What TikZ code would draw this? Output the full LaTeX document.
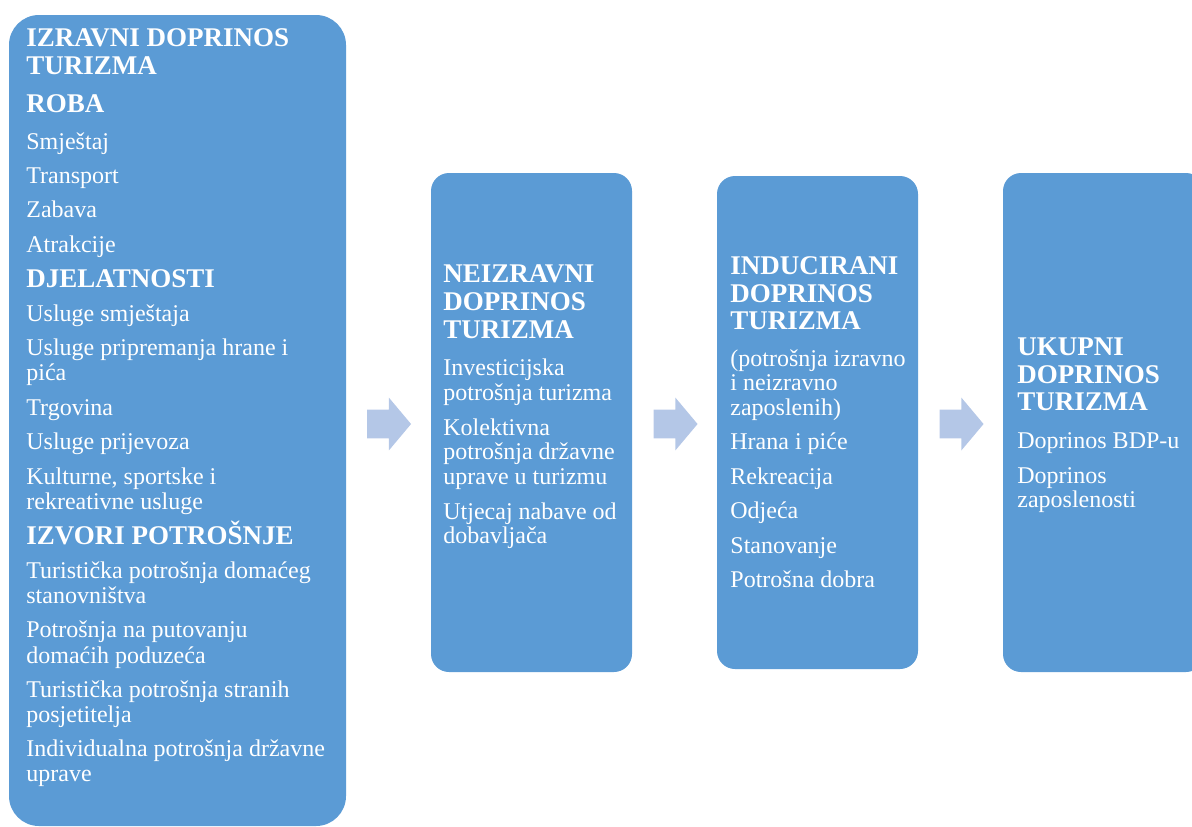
\documentclass[tikz,border=0pt]{standalone}
\usepackage{fontspec}
\setmainfont{Liberation Serif}
\usetikzlibrary{shapes.arrows}

\definecolor{boxblue}{HTML}{5B9BD5}
\definecolor{arrblue}{HTML}{B4C7E7}

\tikzset{
  box/.style={fill=boxblue, inner sep=0},
  arr/.style={single arrow, fill=arrblue, inner xsep=0, inner ysep=7pt,
    single arrow head extend=6pt, single arrow tip angle=100, minimum height=22pt},
  tx/.style={anchor=base west, inner sep=0, text=white, font=\fontsize{12}{12.5}\selectfont},
  hd/.style={tx, font=\fontsize{13.5}{14}\selectfont\bfseries}
}

\begin{document}
\begin{tikzpicture}[x=0.5pt,y=-0.5pt]
                \path[clip] (0,0) rectangle (1192,826);

                % okviri
                \node[box, rounded corners=15pt, minimum width=168.5pt, minimum height=405.5pt] (izr) at (177.5,420.5) {};
                \node[box, rounded corners=9pt, minimum width=100.5pt, minimum height=249.5pt] (neizr) at (531.5,422.5) {};
                \node[box, rounded corners=9pt, minimum width=100.5pt, minimum height=246.5pt] (ind) at (817.5,422.5) {};
                \node[box, rounded corners=9pt, minimum width=100.5pt, minimum height=249.5pt] (uk) at (1103.5,422.5) {};

                % strelice
                \node[arr] (s1) at (383,424) {};
                \node[arr] (s2) at (669.5,424) {};
                \node[arr] (s3) at (955.5,424) {};

                % izravni doprinos
                \foreach \y/\t [count=\i] in {46/IZRAVNI DOPRINOS, 74/TURIZMA, 112/ROBA, 287/DJELATNOSTI, 544/IZVORI POTROŠNJE}
                    \node[hd] (izr-h\i) at (26,\y) {\t};
                \foreach \y/\t [count=\i] in {149/Smještaj, 183/Transport, 217/Zabava, 252/Atrakcije,
                    321/Usluge smještaja, 355/Usluge pripremanja hrane i, 380/pića, 415/Trgovina,
                    449/Usluge prijevoza, 484/{Kulturne, sportske i}, 509/rekreativne usluge,
                    578/Turistička potrošnja domaćeg, 603/stanovništva, 637/Potrošnja na putovanju,
                    663/domaćih poduzeća, 697/Turistička potrošnja stranih, 722/posjetitelja,
                    756/Individualna potrošnja državne, 781/uprave}
                    \node[tx] (izr-t\i) at (26,\y) {\t};

                % neizravni doprinos
                \foreach \y/\t [count=\i] in {282/NEIZRAVNI, 310/DOPRINOS, 338/TURIZMA}
                    \node[hd] (neizr-h\i) at (443,\y) {\t};
                \foreach \y/\t [count=\i] in {375/Investicijska, 400/potrošnja turizma, 435/Kolektivna,
                    459/potrošnja državne, 484/uprave u turizmu, 519/Utjecaj nabave od, 543/dobavljača}
                    \node[tx] (neizr-t\i) at (443,\y) {\t};

                % inducirani doprinos
                \foreach \y/\t [count=\i] in {274/INDUCIRANI, 302/DOPRINOS, 329/TURIZMA}
                    \node[hd] (ind-h\i) at (730,\y) {\t};
                \foreach \y/\t [count=\i] in {366/(potrošnja izravno, 390/i neizravno, 415/zaposlenih),
                    449/Hrana i piće, 484/Rekreacija, 518/Odjeća, 553/Stanovanje, 587/Potrošna dobra}
                    \node[tx] (ind-t\i) at (730,\y) {\t};

                % ukupni doprinos
                \foreach \y/\t [count=\i] in {355/UKUPNI, 383/DOPRINOS, 410/TURIZMA}
                    \node[hd] (uk-h\i) at (1017,\y) {\t};
                \foreach \y/\t [count=\i] in {448/Doprinos BDP-u, 483/Doprinos, 507/zaposlenosti}
                    \node[tx] (uk-t\i) at (1017,\y) {\t};
\end{tikzpicture}
\end{document}
